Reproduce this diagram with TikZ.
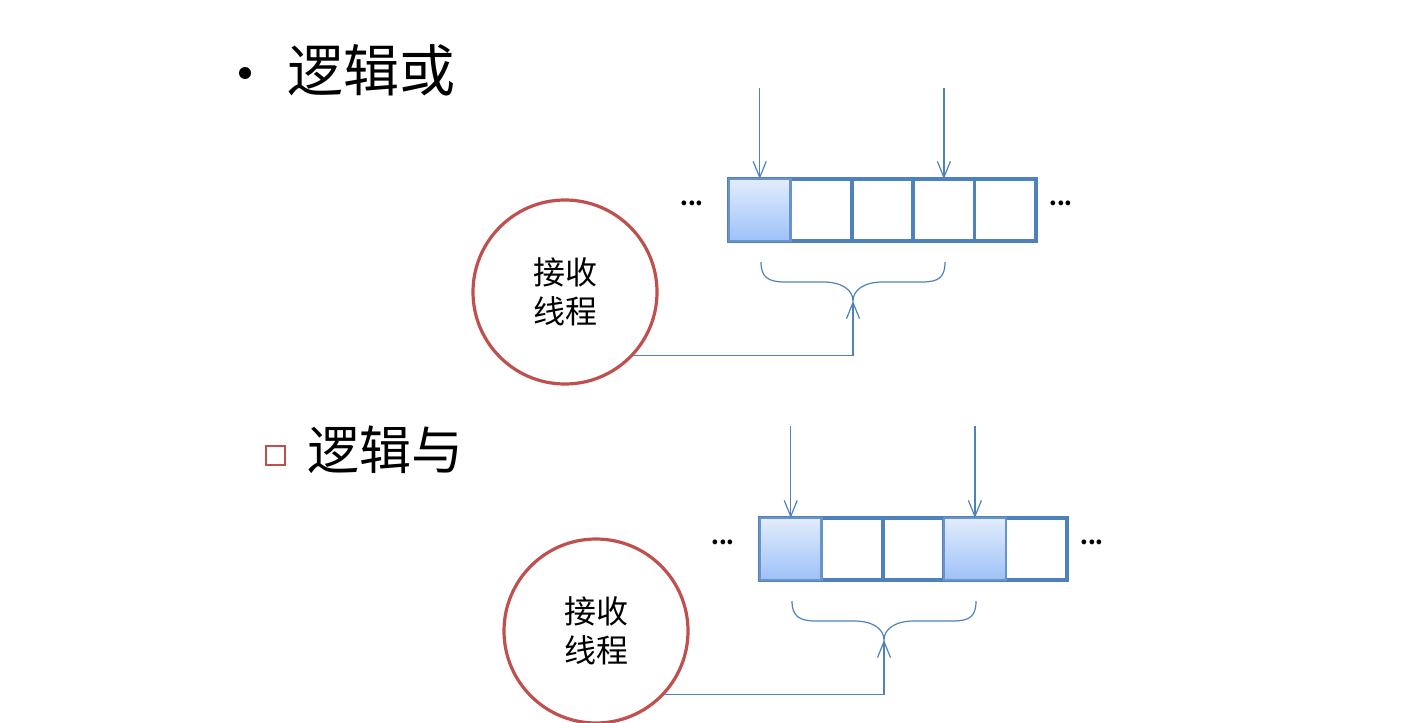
\documentclass[tikz,border=0pt]{standalone}
\usepackage{fontspec}
\setmainfont{Noto Sans CJK SC}
\usetikzlibrary{arrows.meta,positioning}
\definecolor{cellblue}{RGB}{79,129,189}
\definecolor{ringred}{RGB}{192,80,77}
\definecolor{filltop}{RGB}{226,236,252}
\definecolor{fillbot}{RGB}{158,193,248}
\tikzset{
  cell/.style={draw=cellblue, line width=1.8pt, minimum width=30.7pt, minimum height=31pt,
    inner sep=0pt, outer sep=0pt, anchor=north west},
  hitcell/.style={cell, line width=1.1pt, draw=cellblue!85, top color=filltop, bottom color=fillbot},
  ring/.style={draw=ringred, line width=1.6pt, circle, minimum size=92pt, align=center,
    font=\fontsize{16}{19.5}\selectfont},
  feed/.style={draw=cellblue, line width=0.6pt, -{Straight Barb[length=8pt,width=6.5pt]}},
  brace line/.style={draw=cellblue, line width=0.6pt},
  title/.style={font=\fontsize{28}{32}\selectfont, anchor=west, inner sep=0pt},
  dots/.style={font=\bfseries\fontsize{11}{13}\selectfont}
}
\begin{document}
\begin{tikzpicture}[x=0.5pt,y=-0.5pt]
\useasboundingbox (0,0) rectangle (1422,722);

% --- logical OR ---
\fill (245,73) circle (3pt);
\node[title] (or) at (287,70) {逻辑或};
\foreach \i in {1,...,5}{ % cells of the ring buffer
  \node[cell] (a\i) at ({729+61.4*(\i-1)},179) {};
}
\node[hitcell] (a1) at (729,179) {};
\node[dots] (adl) at (692,203) {...};
\node[dots] (adr) at (1061,203) {...};
\coordinate (ain1) at (a1.north |- 0,88);
\coordinate (ain4) at (a4.north |- 0,88);
\draw[feed] (ain1) -- (a1.north);
\draw[feed] (ain4) -- (a4.north);
\coordinate (atip) at (853,301);
\draw[brace line] (761,262) .. controls (761,277) and (768,282) .. (785,282) -- (823,282)
  .. controls (842,282) and (853,290) .. (853,301)
  .. controls (853,290) and (864,282) .. (883,282) -- (922,282)
  .. controls (939,282) and (945,277) .. (945,262);
\node[ring] (ra) at (565,292) {接收\\线程};
\draw[feed] (ra.-43) -| (atip);

% --- logical AND ---
\draw[draw=ringred, line width=1.1pt] (266,446) rectangle (285,465);
\node[title, font=\fontsize{26}{30}\selectfont] (and) at (307,450) {逻辑与};
\foreach \i in {1,...,5}{
  \node[cell] (b\i) at ({760+61.4*(\i-1)},518) {};
}
\foreach \i in {1,4}{ % the two filled cells
  \node[hitcell] (b\i) at ({760+61.4*(\i-1)},518) {};
}
\node[dots] (bdl) at (723,542) {...};
\node[dots] (bdr) at (1092,542) {...};
\coordinate (bin1) at (b1.north |- 0,426);
\coordinate (bin4) at (b4.north |- 0,426);
\draw[feed] (bin1) -- (b1.north);
\draw[feed] (bin4) -- (b4.north);
\coordinate (btip) at (884,640);
\draw[brace line] (792,601) .. controls (792,616) and (799,621) .. (816,621) -- (854,621)
  .. controls (873,621) and (884,629) .. (884,640)
  .. controls (884,629) and (895,621) .. (914,621) -- (953,621)
  .. controls (970,621) and (976,616) .. (976,601);
\node[ring] (rb) at (596,631) {接收\\线程};
\draw[feed] (rb.-43) -| (btip);
\end{tikzpicture}
\end{document}
